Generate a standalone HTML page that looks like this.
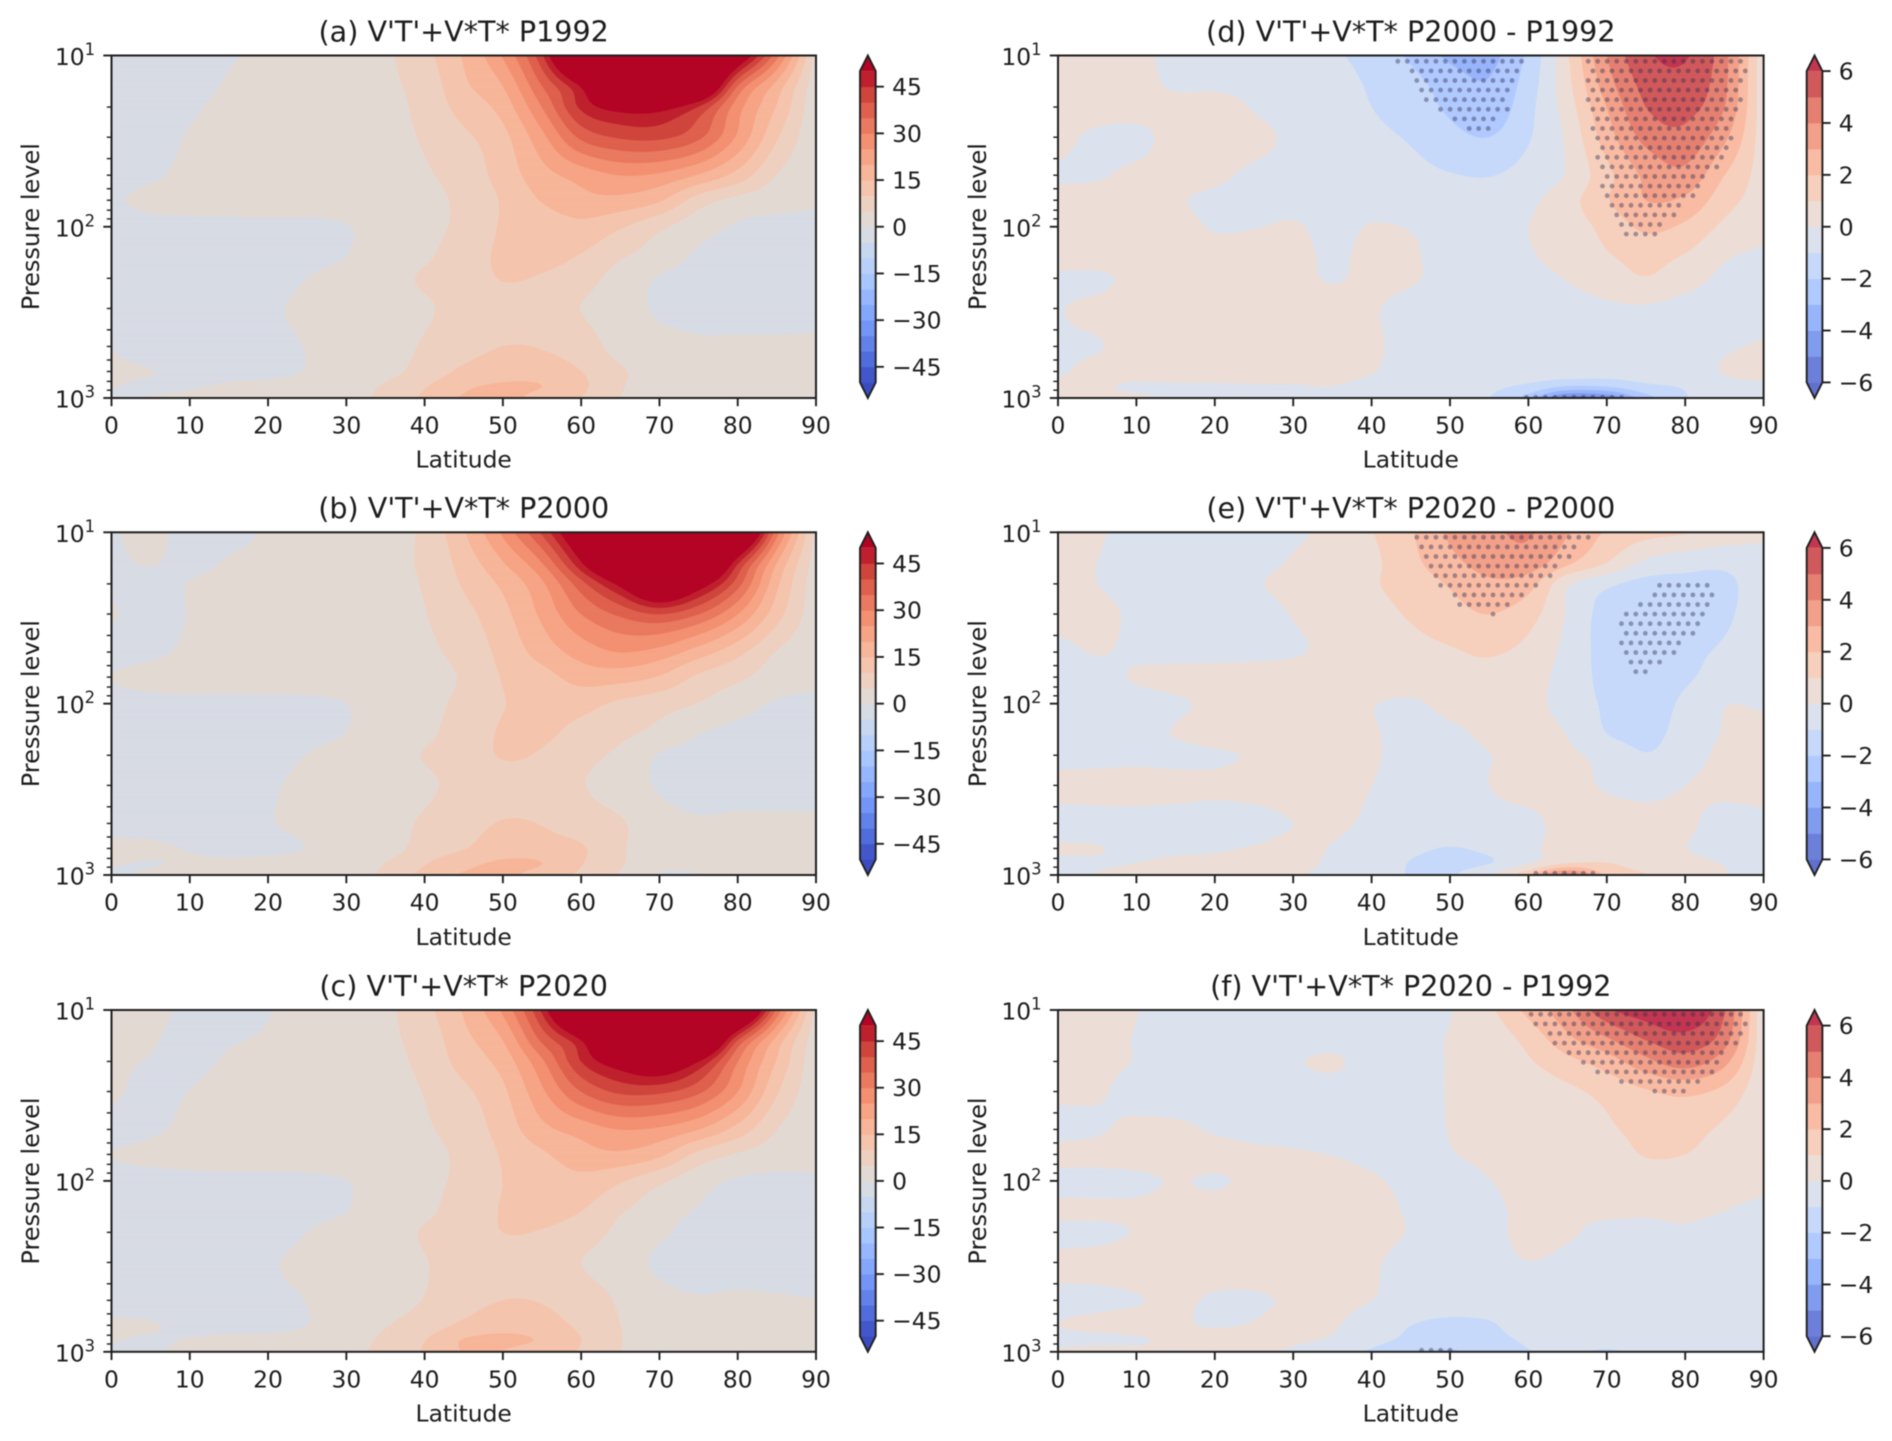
<!DOCTYPE html>
<html lang="en">
<head>
<meta charset="utf-8">
<title>V'T'+V*T* pressure-latitude sections</title>
<style>
html,body{margin:0;padding:0;background:#fff;width:1892px;height:1441px;overflow:hidden}
svg{display:block;filter:blur(.45px)}
text{font-family:"DejaVu Sans","Liberation Sans",sans-serif;fill:#1c1c1c}
.title{font-size:28.6px;text-anchor:middle}
.label{font-size:23.4px;text-anchor:middle}
.ylab{font-size:24px;text-anchor:middle}
</style>
</head>
<body>
<svg id="figure" xmlns="http://www.w3.org/2000/svg" width="1892" height="1441" viewBox="0 0 1892 1441">
<rect width="1892" height="1441" fill="#fff"/>
<defs id="clips"></defs>
<g id="marks"></g>
<text class="title" x="463.7" y="41.5">(a) V'T'+V*T* P1992</text>
<text class="title" x="463.7" y="518">(b) V'T'+V*T* P2000</text>
<text class="title" x="463.7" y="996">(c) V'T'+V*T* P2020</text>
<text class="title" x="1410.8" y="41.5">(d) V'T'+V*T* P2000 - P1992</text>
<text class="title" x="1410.8" y="518">(e) V'T'+V*T* P2020 - P2000</text>
<text class="title" x="1410.8" y="996">(f) V'T'+V*T* P2020 - P1992</text>
<text class="label" x="463.7" y="467.5">Latitude</text>
<text class="label" x="463.7" y="945">Latitude</text>
<text class="label" x="463.7" y="1421.5">Latitude</text>
<text class="label" x="1410.8" y="467.5">Latitude</text>
<text class="label" x="1410.8" y="945">Latitude</text>
<text class="label" x="1410.8" y="1421.5">Latitude</text>
<text class="ylab" transform="translate(39,226.7) rotate(-90)">Pressure level</text>
<text class="ylab" transform="translate(39,703.7) rotate(-90)">Pressure level</text>
<text class="ylab" transform="translate(39,1181) rotate(-90)">Pressure level</text>
<text class="ylab" transform="translate(986,226.7) rotate(-90)">Pressure level</text>
<text class="ylab" transform="translate(986,703.7) rotate(-90)">Pressure level</text>
<text class="ylab" transform="translate(986,1181) rotate(-90)">Pressure level</text>
</svg>
<script>
const latitude = [0,5,10,15,20,25,30,35,40,45,50,55,60,65,70,75,80,85,90];
const pressure = [10,15,20,30,50,70,100,150,200,300,500,700,850,1000];
const xTicks = [0,10,20,30,40,50,60,70,80,90];
const xTickLabels = ['0','10','20','30','40','50','60','70','80','90'];
const yMajorTicks = [10,100,1000];
const yMajorExponents = ['1','2','3'];
const yMinorTicks = [20,30,40,50,60,70,80,90,200,300,400,500,600,700,800,900];
const levelsClimate = [-50,-45,-40,-35,-30,-25,-20,-15,-10,-5,0,5,10,15,20,25,30,35,40,45,50];
const levelsDiff = [-6,-5,-4,-3,-2,-1,0,1,2,3,4,5,6];
const cbarTicksClimate = [-45,-30,-15,0,15,30,45];
const cbarLabelsClimate = ['\u221245','\u221230','\u221215','0','15','30','45'];
const cbarTicksDiff = [-6,-4,-2,0,2,4,6];
const cbarLabelsDiff = ['\u22126','\u22124','\u22122','0','2','4','6'];

const fieldA = [
[-3,-4,-2,-0.5,1,1.5,2,4.2,8.5,15.5,25.5,44,80,90,92,90,60,31.5,2.5],
[-3,-4,-2,0.5,2,2,2.5,4,7,14,20,35,51,75,80,70,35,18,1.5],
[-3,-4,-1,1.5,2.5,2.5,3,3.5,6.5,12,17,30,46,53,53,44.5,27,14.5,1],
[-3,-3,0.5,2,3,3,3.5,3.5,5.5,9,13.5,23.5,36,40.5,41,36,24,10.5,0.8],
[-3,-1,1.5,2.5,3,3,3.5,3.5,4.5,7,12,18,22,25,24,19.5,13,4.8,1],
[-1,1.5,2,2.5,3,3,3,3.5,4,6,10.5,15.3,18.5,18.5,15.5,7.5,3.5,2,0.5],
[-3,-2,-1.5,-1.5,-1.5,-1.5,-0.3,2.5,4,6,10.5,12,13.5,10.5,6,2,-0.5,-1.5,-1.5],
[-3,-3,-2.5,-2,-2,-1.5,0,3,4.5,7,11,11.5,9.5,5.5,2.5,-0.7,-1.5,-2,-2],
[-3,-3,-3,-3,-2,0,2,3.5,5.5,7.5,10.2,9.5,7,3,-0.3,-1.5,-2,-2.2,-2.2],
[-3,-3,-3,-3,-0.8,1,2.5,3.5,4.5,6.5,8,7.5,4.9,2.5,-0.8,-2,-2.2,-2.2,-1.5],
[-0.1,-3,-3,-3,-1.5,0.2,2,3,5.5,8,10,9.7,7.5,3.2,2,1,1,1,1],
[1,0.2,-2,-1.5,-1.2,0.2,2,3.5,7,11,13,12.5,10,5.6,3,2.5,2.5,2.5,2.5],
[0.3,-1,-0.5,0.5,1,1.5,3,5.5,9.5,14,15.5,15,11,5.4,3,2.5,2.5,2.5,2.5],
[-1,0.3,1,1.2,1.5,2,4,6,11,15.5,16.5,13,9.8,5,3,2.5,2.5,2.5,2.5]
];
const fieldB = [
[-0.6,1.5,-2,-1.5,0.5,2,2.5,3.5,6,14.5,26,41,62,85,92,92,75,32,3],
[-1,0.3,-1.5,0.4,1.2,2,2.5,4,5.8,12,19.7,30,49.5,72,85,78,46,20,2],
[-1,-2,0.2,1.5,2,2.5,2.5,3.5,5.4,10.5,16,24,38,52,68,55,37,16,1.5],
[0.5,-2,0.2,2,2.5,2.5,2.5,3.5,4.8,8.5,13.5,21,30,36,40,35,25,12,1.5],
[-2,-1,0.8,1.5,2,2.5,2.5,3.5,4.2,6.5,11.5,17,22,25,23,17.5,11.5,4.7,1],
[0.2,1.5,2,2,2.5,2.5,3,3,3.8,5.5,10.3,13,17,17,14.5,9,6,2.5,1],
[-2,-1.5,-1.3,-1.3,-1.3,-1.1,-0.1,3,4,6,9.8,11,11.5,9,7,4.8,2,-0.5,-1],
[-3,-3,-3,-2.5,-2,-1.5,0.1,3,4.2,7,10.5,10.7,8.5,6,3.5,0.1,-1.5,-2,-2],
[-3,-3,-3,-2.5,-1.8,0.1,2,3.5,5.2,7.5,10.3,9.5,6.5,4,-0.3,-1.5,-2,-2.2,-2],
[-3,-3,-3,-2,-0.7,1.2,2,3,4.2,6.5,8,7.5,5.3,2.5,-0.5,-2,-2.2,-2.2,-2.2],
[-1.5,-2,-2.5,-2,-0.3,1,2,3,5.7,8,10.3,9.8,7.5,5.5,2,0.6,1,1,1],
[1,0.8,-0.3,-1,-1,0.1,2,3,7,9.7,13,12,10.5,5.5,3,2,2,2,2],
[0.3,-0.2,0.5,0.5,1,1.5,2.5,5,9.5,13.5,15.5,15,10.3,5.5,1.5,1.5,2,2,2],
[-1,0.5,1,1,1.2,1.5,3,6,11.5,15.5,16,13,9,4.5,-0.5,-0.2,1.5,2,2]
];
const fieldC = [
[2,1.5,-1,-2,-0.3,1.5,2.5,4,8.5,15.5,26,46,80,90,92,92,76,34,3],
[1.5,0.5,-2,-0.5,0.6,2,2.5,4,7,13.5,20,36,50,75,80,75,40,18,1.5],
[1,-0.3,-1.5,0.7,1.8,2,2.5,3.7,6.3,12,17,29,45,55,60,50,30,14.5,1],
[1,-1.5,0.1,2,2.5,2.5,3,3.5,5.2,9,14,24,35,41,41,36,25,10.5,1],
[-2,-0.8,1.2,2,2.5,2.5,3,3.5,4.5,7,12,18.5,22,25,24,20,13,5,1],
[0.1,1.2,2,2.5,2.5,2.5,3,3.5,4,6,10.5,14.2,18,19,16,8.5,4.5,2.5,1],
[-2,-1.8,-1.5,-1.3,-1.2,-1,-0.1,2.5,4,6,10,12,13.5,10.5,6,1.8,-0.5,-1,-0.5],
[-3,-3,-3,-2.5,-2,-1.3,-0.1,3,4.2,7,10.3,11.5,10,5.5,2,-0.3,-1.5,-2,-2],
[-3,-3,-3,-2.5,-1.5,0,2,3,5.4,7.5,10,9.7,7.5,3.8,0.8,-1.5,-2.2,-2.2,-2.2],
[-3,-3,-3,-3,-0.5,0.8,2,3,4.8,6.5,8,7.5,5,2.5,-0.8,-2,-2.2,-2.2,-2.2],
[-2,-2.5,-3,-2,-0.8,0.1,2,3,5.2,8,10,9.7,7.5,4.4,1.5,0.4,0.8,0.5,0.1],
[0.7,0.4,-1.5,-1.5,-1.2,0,2,4.7,7.5,11,13.5,12,9,5,3,2,2,2,2],
[0.3,-0.5,0.2,0.8,1,1.5,3,6,9.8,15.2,15.8,14.5,10,5.2,3,2.5,2.5,2.5,2.5],
[-1,-0.5,1,1.2,1.5,2,3.5,6.5,10.5,15.2,14.8,12,9.5,5,2.5,2,2,2,2]
];
const fieldD = [
[0.5,0.5,0.5,-0.6,-0.4,-0.5,-0.6,-0.9,-1.3,-2.2,-3.2,-3.3,-1.8,0.9,4,5.8,6.1,4.3,0.3],
[0.5,0.5,0.5,-0.2,-0.2,-0.4,-0.5,-0.7,-1.1,-1.6,-2.5,-2.9,-1.5,0.7,3.5,5.3,5.6,4.2,0.3],
[0.4,0.5,0.5,0.5,0.6,-0.1,-0.5,-0.6,-1,-1.4,-2.2,-2.7,-1.3,0.5,3,5,5.3,4,0.3],
[0.3,-0.2,-0.3,0.4,0.6,0.3,-0.2,-0.4,-0.8,-1.1,-1.7,-2,-1.1,0.2,2.5,4.3,4.7,3.2,0.4],
[-0.1,-0.1,0.25,0.4,0.2,-0.2,-0.3,-0.4,-0.5,-0.7,-0.95,-1.05,-0.6,0.1,1.7,3.2,3.7,2,0.5],
[0.3,0.4,0.5,0.1,-0.2,-0.3,-0.3,-0.3,-0.4,-0.5,-0.5,-0.5,-0.2,0.6,1.9,3,2.8,1.4,0.5],
[0.4,0.5,0.5,0.4,-0.1,-0.05,0.1,-0.3,0.05,-0.05,-0.3,-0.3,0,0.5,1.3,2.2,1.8,0.8,0.3],
[0.4,0.5,0.5,0.5,0.5,0.5,0.4,-0.2,0.3,0.1,-0.3,-0.3,-0.1,0.4,0.9,1.3,0.9,0.1,-0.2],
[-0.2,-0.2,0.3,0.5,0.5,0.5,0.4,-0.1,0.3,0.1,-0.3,-0.3,-0.3,0.05,0.5,0.95,0.4,-0.2,-0.4],
[-0.05,0.2,0.4,0.5,0.5,0.5,0.5,0.5,0.1,-0.3,-0.4,-0.4,-0.4,-0.3,-0.15,-0.1,-0.3,-0.4,-0.4],
[-0.1,-0.05,0.3,0.4,0.4,0.4,0.4,0.4,0.15,-0.3,-0.3,-0.3,-0.3,-0.3,-0.3,-0.3,-0.3,-0.1,0.1],
[-0.1,0.2,0.3,0.4,0.4,0.4,0.4,0.4,0.05,-0.4,-0.5,-0.5,-0.5,-0.5,-0.6,-0.5,-0.4,0.05,0.4],
[0.2,0.1,-0.1,-0.1,-0.1,-0.05,-0.05,0,-0.3,-0.5,-0.7,-0.8,-1.2,-2,-1.9,-1.2,-0.9,-0.3,-0.2],
[0.3,0.1,0.1,-0.1,-0.1,-0.1,-0.1,-0.2,-0.3,-0.5,-0.8,-1,-2.5,-5.5,-5,-2.5,-1.1,-0.5,-0.2]
];
const fieldE = [
[0.3,0.1,-0.3,-0.3,-0.3,-0.3,-0.2,0.3,0.95,1.9,3.2,3.8,4.1,3.1,1.9,1.4,1.1,0.6,0.1],
[0.3,0,-0.4,-0.4,-0.4,-0.3,0.1,0.5,0.8,1.7,2.7,3.4,3.6,2.2,1,-0.2,-0.6,-0.7,-0.2],
[0.4,0,-0.4,-0.4,-0.4,-0.1,0.3,0.5,0.9,1.4,2.1,2.8,2.4,0.15,-0.8,-1.3,-1.3,-1.3,-0.2],
[0.4,0.3,-0.2,-0.4,-0.3,-0.4,0.05,0.4,0.7,1.1,1.6,2,1.4,-0.1,-1.4,-1.6,-1.8,-1.2,-0.4],
[-0.3,0.05,-0.2,-0.3,-0.3,-0.3,-0.1,0.2,0.5,0.7,0.9,1.1,0.7,-0.3,-1.4,-1.7,-1.3,-0.85,-0.5],
[-0.4,-0.4,0.1,0.3,0.4,0.5,0.5,0.6,0.6,0.6,0.7,0.7,0.4,-0.4,-1.3,-1.6,-1.15,-0.6,-0.4],
[-0.4,-0.4,-0.4,-0.15,0.2,0.4,0.5,0.5,0.05,-0.15,0.3,0.5,0.3,-0.4,-1.15,-1.5,-0.8,-0.05,-0.1],
[-0.4,-0.4,-0.3,0.05,0.4,0.5,0.5,0.5,0.1,-0.3,-0.2,0.2,0.4,-0.05,-1,-1.3,-0.6,0.05,0.3],
[-0.4,-0.4,-0.3,-0.3,-0.15,0.1,0.4,0.3,0.1,-0.3,-0.3,-0.02,0.3,0.15,-0.3,-0.95,-0.4,0.2,0.4],
[0.3,0.4,0.4,0.3,0.2,0.3,0.4,0.3,0,-0.3,-0.3,0,0.3,0.3,-0.1,-0.3,0,0.2,0.3],
[-0.4,-0.4,-0.4,-0.4,-0.4,-0.3,0,0.15,-0.15,-0.3,-0.3,-0.3,-0.2,0.3,0.4,0.3,0.15,-0.3,-0.2],
[0.1,0.05,-0.3,-0.2,-0.1,0.05,0.2,-0.05,-0.4,-0.8,-1.05,-0.8,-0.2,0.4,0.5,0.4,0.02,-0.4,-0.3],
[-0.2,-0.1,0,0.2,0.2,0.3,0.2,-0.1,-0.3,-1.05,-1.2,-1.05,-0.1,0.9,1,0.6,0.3,-0.05,-0.3],
[-0.2,0.05,0.2,0.3,0.3,0.3,0.1,-0.2,-0.3,-1.1,-1.1,-0.1,1.8,4.5,1.8,1.05,0.3,0.05,-0.3]
];
const fieldF = [
[0.4,0.4,0.03,-0.3,-0.3,-0.4,-0.4,-0.4,-0.4,-0.3,-0.05,0.8,2.3,3.8,5.8,6.6,7,5.1,0.1],
[0.4,0.3,-0.05,-0.3,-0.3,-0.4,-0.4,-0.4,-0.4,-0.3,0.05,0.4,1.3,2.7,3.8,5,5.6,4.4,0.2],
[0.4,0.3,-0.05,-0.3,-0.3,-0.3,-0.1,0.15,-0.4,-0.3,0.05,0.4,0.9,1.7,2.5,3.7,4.5,3.3,0.2],
[0.2,0.1,-0.3,-0.5,-0.3,-0.4,-0.4,-0.4,-0.4,-0.3,0.05,0.4,0.5,0.8,1.3,1.9,2.2,1.7,0.2],
[-0.3,-0.1,0.2,0.2,-0.1,-0.3,-0.3,-0.4,-0.4,-0.3,0.03,0.4,0.5,0.5,0.85,1.3,1.4,0.8,0.2],
[0.3,0.3,0.4,0.5,0.4,0.2,0.1,-0.02,-0.2,-0.3,-0.05,0.2,0.4,0.5,0.6,1.05,1,0.5,0.3],
[-0.3,-0.3,-0.2,0.05,-0.1,0.2,0.4,0.3,0.1,-0.2,-0.3,-0.02,0.3,0.4,0.5,0.55,0.5,0.4,0.3],
[0.2,0.2,0.2,0.4,0.4,0.4,0.4,0.4,0.3,-0.1,-0.3,-0.2,0.2,0.1,0.15,0.1,0.15,0,-0.3],
[-0.3,-0.25,0.05,0.4,0.5,0.5,0.5,0.4,0.3,-0.05,-0.3,-0.3,0.3,0.1,-0.2,-0.2,-0.1,-0.3,-0.4],
[0.2,0.3,0.4,0.4,0.4,0.4,0.4,0.3,0.1,-0.3,-0.4,-0.3,-0.02,-0.2,-0.4,-0.4,-0.4,-0.4,-0.4],
[-0.2,-0.2,-0.05,0.15,-0.1,-0.1,0.1,0.2,0,-0.4,-0.4,-0.4,-0.4,-0.4,-0.4,-0.4,-0.4,-0.4,-0.4],
[0,0.2,0.3,0.1,-0.05,0.05,0.3,0.1,-0.5,-1,-1.3,-1.15,-0.4,-0.4,-0.4,-0.4,-0.4,-0.4,-0.4],
[-0.2,-0.2,-0.1,0.2,0.3,0.3,0.1,-0.1,-0.7,-1.2,-1.4,-1.3,-0.85,-0.5,-0.5,-0.4,-0.4,-0.4,-0.4],
[0.1,0.3,0.2,-0.05,0.1,0.1,-0.1,-0.4,-1.15,-1.8,-2.2,-1.4,-1.05,-0.8,-1.2,-0.7,-0.5,-0.4,-0.4]
];

const significantD = [
[[42.5,10],[45,14],[47,18.5],[51.5,26],[54.5,28.5],[57.3,21],[59.5,10]],
[[66.8,10],[68.2,28],[69.4,70],[72.5,125],[75.5,125],[79,84],[85.1,41],[87.4,18],[88.2,10]],
[[58.3,1000],[60,960],[64,930],[70,930],[73.2,1000]]
];
const significantE = [
[[45.2,10],[46.8,17.3],[50.6,26],[55.6,31],[61,21],[65.6,14.5],[68.3,10]],
[[76.7,20],[84,20],[83.2,31],[79,48.6],[74,76],[72.9,73],[71.3,40.6],[72.1,29.7]],
[[60,1000],[62,915],[67,915],[69,1000]]
];
const significantF = [
[[59.4,10],[62.9,16],[68.3,23],[72.1,27],[77.8,33],[81.3,29],[84.4,22],[87.4,14],[88.2,10]],
[[45.8,1000],[46.5,900],[50.8,900],[50.5,1000]]
];

const coolwarmTable = [[59,76,192],[68,90,204],[77,104,215],[87,117,225],[98,130,234],[108,142,241],[119,154,247],[130,165,251],[141,176,254],[152,185,255],[163,194,255],[174,201,253],[184,208,249],[194,213,244],[204,217,238],[213,219,230],[221,221,221],[229,216,209],[236,211,197],[241,204,185],[245,196,173],[247,187,160],[247,177,148],[247,166,136],[244,154,123],[241,141,111],[236,127,99],[229,112,88],[222,96,77],[213,80,66],[203,62,56],[192,40,47],[180,4,38]];

const SVG_NS = 'http://www.w3.org/2000/svg';
const marks = document.getElementById('marks');
const clips = document.getElementById('clips');
const INK = '#1f1f1f';

function colorAt(t, alpha) {
  const s = Math.max(0, Math.min(1, t)) * (coolwarmTable.length - 1);
  const k = Math.min(coolwarmTable.length - 2, Math.floor(s));
  const f = s - k;
  const rgb = [0,1,2].map(c => coolwarmTable[k][c] * (1 - f) + coolwarmTable[k + 1][c] * f);
  return 'rgb(' + rgb.map(c => Math.round(c * alpha + 255 * (1 - alpha))).join(',') + ')';
}
function hermite(xs, ys, x) {
  let k = 0;
  while (k < xs.length - 2 && x > xs[k + 1]) k++;
  const h = xs[k + 1] - xs[k];
  const t = (x - xs[k]) / h;
  const m0 = k > 0 ? (ys[k + 1] - ys[k - 1]) / (xs[k + 1] - xs[k - 1]) : (ys[k + 1] - ys[k]) / h;
  const m1 = k < xs.length - 2 ? (ys[k + 2] - ys[k]) / (xs[k + 2] - xs[k]) : (ys[k + 1] - ys[k]) / h;
  const t2 = t * t, t3 = t2 * t;
  return (2 * t3 - 3 * t2 + 1) * ys[k] + (t3 - 2 * t2 + t) * h * m0 + (-2 * t3 + 3 * t2) * ys[k + 1] + (t3 - t2) * h * m1;
}
function buildGrid(field, nx, ny) {
  const logP = pressure.map(p => Math.log10(p));
  const grid = [];
  for (let j = 0; j <= ny; j++) {
    const lp = 1 + 2 * j / ny;
    const nodes = latitude.map((_, i) => hermite(logP, field.map(r => r[i]), lp));
    const row = [];
    for (let i = 0; i <= nx; i++) row.push(hermite(latitude, nodes, 90 * i / nx));
    grid.push(row);
  }
  return grid;
}
function regionPath(grid, level, xs, ys) {
  const parts = [];
  const ny = grid.length - 1, nx = grid[0].length - 1;
  for (let j = 0; j < ny; j++) {
    let runStart = -1;
    const flush = end => {
      if (runStart >= 0) {
        parts.push('M' + xs[runStart].toFixed(1) + ' ' + ys[j].toFixed(1) + 'H' + xs[end].toFixed(1) + 'V' + ys[j + 1].toFixed(1) + 'H' + xs[runStart].toFixed(1) + 'Z');
        runStart = -1;
      }
    };
    for (let i = 0; i < nx; i++) {
      const c = [[xs[i], ys[j], grid[j][i]], [xs[i + 1], ys[j], grid[j][i + 1]], [xs[i + 1], ys[j + 1], grid[j + 1][i + 1]], [xs[i], ys[j + 1], grid[j + 1][i]]];
      const inside = c.filter(q => q[2] >= level).length;
      if (inside === 4) {
        if (runStart < 0) runStart = i;
        continue;
      }
      flush(i);
      if (inside === 0) continue;
      const poly = [];
      for (let k = 0; k < 4; k++) {
        const a = c[k], b = c[(k + 1) % 4];
        if (a[2] >= level) poly.push([a[0], a[1]]);
        if ((a[2] >= level) !== (b[2] >= level)) {
          const t = (level - a[2]) / (b[2] - a[2]);
          poly.push([a[0] + t * (b[0] - a[0]), a[1] + t * (b[1] - a[1])]);
        }
      }
      parts.push('M' + poly.map(q => q[0].toFixed(1) + ' ' + q[1].toFixed(1)).join('L') + 'Z');
    }
    flush(nx);
  }
  return parts.join('');
}
function insidePolygon(px, py, poly) {
  let hit = false;
  for (let i = 0, j = poly.length - 1; i < poly.length; j = i++) {
    const a = poly[i], b = poly[j];
    if ((a[1] > py) !== (b[1] > py) && px < (b[0] - a[0]) * (py - a[1]) / (b[1] - a[1]) + a[0]) hit = !hit;
  }
  return hit;
}
function line(parent, x1, y1, x2, y2, width, name) {
  const el = document.createElementNS(SVG_NS, 'line');
  
  
  el.setAttribute('x1', x1); el.setAttribute('y1', y1);
  el.setAttribute('x2', x2); el.setAttribute('y2', y2);
  el.setAttribute('stroke', INK);
  el.setAttribute('stroke-width', width);
  parent.appendChild(el);
}
function label(parent, x, y, anchor, content, name) {
  const el = document.createElementNS(SVG_NS, 'text');
  
  
  el.setAttribute('x', x); el.setAttribute('y', y);
  el.setAttribute('text-anchor', anchor);
  el.setAttribute('font-size', '23.4');
  el.textContent = content;
  parent.appendChild(el);
  return el;
}

function drawPanel(cfg) {
  const g = document.createElementNS(SVG_NS, 'g');
  
  
  marks.appendChild(g);
  const L = cfg.left, R = cfg.right, T = cfg.top, B = cfg.bottom;
  const xScale = lat => L + lat / 90 * (R - L);
  const yScale = p => T + Math.log10(p / 10) / 2 * (B - T);
  const levels = cfg.levels;
  const minL = levels[0], maxL = levels[levels.length - 1];
  const bandColor = i => colorAt(((levels[i] + levels[i + 1]) / 2 - minL) / (maxL - minL), cfg.alpha);
  const overColor = colorAt(1, cfg.alpha), underColor = colorAt(0, cfg.alpha);

  const clip = document.createElementNS(SVG_NS, 'clipPath');
  clip.setAttribute('id', 'clip-' + cfg.id);
  const clipRect = document.createElementNS(SVG_NS, 'rect');
  clipRect.setAttribute('x', L); clipRect.setAttribute('y', T);
  clipRect.setAttribute('width', R - L); clipRect.setAttribute('height', B - T);
  clip.appendChild(clipRect);
  clips.appendChild(clip);

  const plot = document.createElementNS(SVG_NS, 'g');
  
  
  plot.setAttribute('clip-path', 'url(#clip-' + cfg.id + ')');
  g.appendChild(plot);

  const nx = 180, ny = 120;
  const grid = buildGrid(cfg.field, nx, ny);
  const xs = [], ys = [];
  for (let i = 0; i <= nx; i++) xs.push(xScale(90 * i / nx));
  for (let j = 0; j <= ny; j++) ys.push(yScale(Math.pow(10, 1 + 2 * j / ny)));

  const base = document.createElementNS(SVG_NS, 'rect');
  
  
  base.setAttribute('x', L); base.setAttribute('y', T);
  base.setAttribute('width', R - L); base.setAttribute('height', B - T);
  base.setAttribute('fill', underColor);
  plot.appendChild(base);

  levels.forEach((lev, i) => {
    const d = regionPath(grid, lev, xs, ys);
    if (!d) return;
    const fill = i < levels.length - 1 ? bandColor(i) : overColor;
    const band = document.createElementNS(SVG_NS, 'path');
    
    
    band.setAttribute('d', d);
    band.setAttribute('fill', fill);
    band.setAttribute('stroke', fill);
    band.setAttribute('stroke-width', '0.5');
    plot.appendChild(band);
  });

  if (cfg.significant) {
    const polys = cfg.significant.map(poly => poly.map(q => [xScale(q[0]), yScale(q[1])]));
    const stipple = document.createElementNS(SVG_NS, 'g');
    
    
    plot.appendChild(stipple);
    for (let k = 0; cfg.dotY + k * 9.6 < B; k++) {
      const y = cfg.dotY + k * 9.6;
      const offset = 1407.3 + (k % 2 ? 4.76 : 0);
      for (let x = offset - 9.52 * 40; x < R; x += 9.52) {
        if (x < L || !polys.some(poly => insidePolygon(x, y, poly))) continue;
        const dot = document.createElementNS(SVG_NS, 'circle');
        
        
        dot.setAttribute('cx', x.toFixed(1));
        dot.setAttribute('cy', y.toFixed(1));
        dot.setAttribute('r', '2.4');
        dot.setAttribute('fill', 'rgba(45,45,80,0.42)');
        stipple.appendChild(dot);
      }
    }
  }

  const frame = document.createElementNS(SVG_NS, 'rect');
  
  
  frame.setAttribute('x', L); frame.setAttribute('y', T);
  frame.setAttribute('width', R - L); frame.setAttribute('height', B - T);
  frame.setAttribute('fill', 'none');
  frame.setAttribute('stroke', INK);
  frame.setAttribute('stroke-width', '2');
  g.appendChild(frame);

  xTicks.forEach((lat, i) => {
    const x = xScale(lat);
    line(g, x, B, x, B + 8.2, 1.9, 'x-tick');
    label(g, x, B + 35.5, 'middle', xTickLabels[i], 'x-tick-label');
  });
  yMinorTicks.forEach(p => {
    line(g, L, yScale(p), L - 4.7, yScale(p), 1.4, 'y-minor-tick');
  });
  yMajorTicks.forEach((p, i) => {
    const y = yScale(p);
    line(g, L, y, L - 8.2, y, 1.9, 'y-tick');
    const t = label(g, L - 16.4, y + 9.5, 'end', '10', 'y-tick-label');
    const sup = document.createElementNS(SVG_NS, 'tspan');
    sup.setAttribute('dy', '-10');
    sup.setAttribute('font-size', '16.4');
    sup.textContent = yMajorExponents[i];
    t.appendChild(sup);
  });

  const cb = document.createElementNS(SVG_NS, 'g');
  
  
  g.appendChild(cb);
  const cx0 = cfg.cbLeft, cx1 = cfg.cbLeft + 15.7, cy0 = T + 15.6, cy1 = B - 15.6;
  const cbScale = v => cy1 - (v - minL) / (maxL - minL) * (cy1 - cy0);
  const mid = (cx0 + cx1) / 2;
  const tipTop = document.createElementNS(SVG_NS, 'polygon');
  
  
  tipTop.setAttribute('points', cx0 + ',' + cy0 + ' ' + mid + ',' + T + ' ' + cx1 + ',' + cy0);
  tipTop.setAttribute('fill', overColor);
  cb.appendChild(tipTop);
  const tipBottom = document.createElementNS(SVG_NS, 'polygon');
  
  
  tipBottom.setAttribute('points', cx0 + ',' + cy1 + ' ' + mid + ',' + B + ' ' + cx1 + ',' + cy1);
  tipBottom.setAttribute('fill', underColor);
  cb.appendChild(tipBottom);
  for (let i = 0; i < levels.length - 1; i++) {
    const r = document.createElementNS(SVG_NS, 'rect');
    
    
    r.setAttribute('x', cx0);
    r.setAttribute('y', cbScale(levels[i + 1]));
    r.setAttribute('width', cx1 - cx0);
    r.setAttribute('height', cbScale(levels[i]) - cbScale(levels[i + 1]) + 0.4);
    r.setAttribute('fill', bandColor(i));
    cb.appendChild(r);
  }
  const outline = document.createElementNS(SVG_NS, 'polygon');
  
  
  outline.setAttribute('points', [[cx0, cy0], [mid, T], [cx1, cy0], [cx1, cy1], [mid, B], [cx0, cy1]].map(q => q.join(',')).join(' '));
  outline.setAttribute('fill', 'none');
  outline.setAttribute('stroke', INK);
  outline.setAttribute('stroke-width', '1.9');
  cb.appendChild(outline);
  cfg.cbTicks.forEach((v, i) => {
    const y = cbScale(v);
    line(cb, cx1, y, cx1 + 8.2, y, 1.9, 'colorbar-tick');
    label(cb, cx1 + 16.4, y + 8.5, 'start', cfg.cbLabels[i], 'colorbar-tick-label');
  });
}

const rowBox = [[55.5, 398, 61.3], [532.3, 875, 537.3], [1010, 1351.8, 1014.3]];
drawPanel({id:'a', field:fieldA, levels:levelsClimate, alpha:1, left:111.5, right:816, top:rowBox[0][0], bottom:rowBox[0][1], cbLeft:860, cbTicks:cbarTicksClimate, cbLabels:cbarLabelsClimate});
drawPanel({id:'b', field:fieldB, levels:levelsClimate, alpha:1, left:111.5, right:816, top:rowBox[1][0], bottom:rowBox[1][1], cbLeft:860, cbTicks:cbarTicksClimate, cbLabels:cbarLabelsClimate});
drawPanel({id:'c', field:fieldC, levels:levelsClimate, alpha:1, left:111.5, right:816, top:rowBox[2][0], bottom:rowBox[2][1], cbLeft:860, cbTicks:cbarTicksClimate, cbLabels:cbarLabelsClimate});
drawPanel({id:'d', field:fieldD, levels:levelsDiff, alpha:0.8, left:1058, right:1763.6, top:rowBox[0][0], bottom:rowBox[0][1], cbLeft:1806.7, cbTicks:cbarTicksDiff, cbLabels:cbarLabelsDiff, significant:significantD, dotY:rowBox[0][2]});
drawPanel({id:'e', field:fieldE, levels:levelsDiff, alpha:0.8, left:1058, right:1763.6, top:rowBox[1][0], bottom:rowBox[1][1], cbLeft:1806.7, cbTicks:cbarTicksDiff, cbLabels:cbarLabelsDiff, significant:significantE, dotY:rowBox[1][2]});
drawPanel({id:'f', field:fieldF, levels:levelsDiff, alpha:0.8, left:1058, right:1763.6, top:rowBox[2][0], bottom:rowBox[2][1], cbLeft:1806.7, cbTicks:cbarTicksDiff, cbLabels:cbarLabelsDiff, significant:significantF, dotY:rowBox[2][2]});
</script>
</body>
</html>
